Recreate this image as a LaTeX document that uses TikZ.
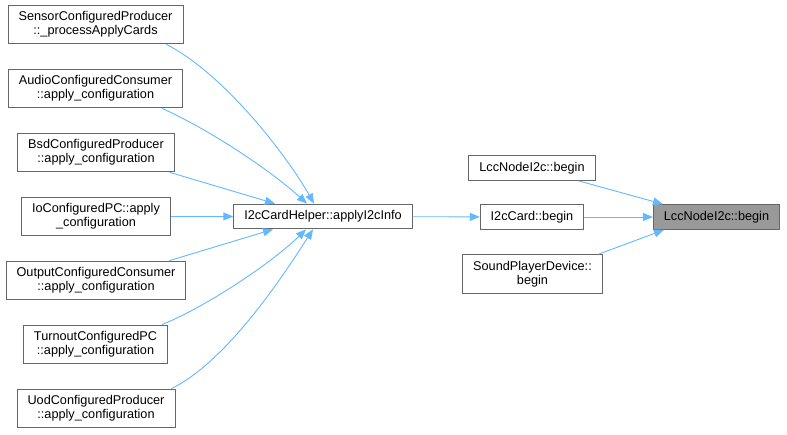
\documentclass[tikz,border=0pt]{standalone}
\usepackage{fontspec}
\setmainfont{Liberation Sans}
\usepackage{tikz}
\usetikzlibrary{arrows.meta}

\begin{document}
\begin{tikzpicture}[x=1pt,y=-1pt,
  fn/.style={draw=black!60,fill=white,line width=0.9pt,align=center,
    inner xsep=10.5pt,inner ysep=6.5pt,font=\fontsize{12.7}{14}\selectfont},
  cur/.style={fn,fill=black!40},
  edge/.style={draw={rgb,255:red,99;green,184;blue,255},line width=0.9pt,
    -{Triangle[length=10pt,width=8pt]}}]
  \useasboundingbox (0,0) rectangle (787,435);
  \node[fn] (0) at (95.5,24.5) {SensorConfiguredProducer\\::\_processApplyCards};
  \node[fn] (1) at (95.5,88.5) {AudioConfiguredConsumer\\::apply\_configuration};
  \node[fn] (2) at (96,152.5) {BsdConfiguredProducer\\::apply\_configuration};
  \node[fn] (3) at (96,216.5) {IoConfiguredPC::apply\\\_configuration};
  \node[fn] (4) at (96,280.5) {OutputConfiguredConsumer\\::apply\_configuration};
  \node[fn] (5) at (95.5,344.5) {TurnoutConfiguredPC\\::apply\_configuration};
  \node[fn] (6) at (96,408.5) {UodConfiguredProducer\\::apply\_configuration};
  \node[fn] (7) at (323,216.5) {I2cCardHelper::applyI2cInfo};
  \node[fn] (8) at (532,168) {LccNodeI2c::begin};
  \node[fn] (9) at (532,217) {I2cCard::begin};
  \node[fn] (10) at (532.5,274) {SoundPlayerDevice::\\begin};
  \node[cur] (11) at (716.5,217) {LccNodeI2c::begin};
  \draw[edge] ([xshift=-17pt]0.south east) .. controls (226,75) and (289,159) .. ([xshift=-9pt]7.north);
  \draw[edge] ([xshift=-21pt]1.south east) .. controls (210,130) and (270,170) .. ([xshift=-16pt]7.north);
  \draw[edge] ([xshift=-5pt]2.south east) -- ([xshift=-48pt]7.north);
  \draw[edge] (3) -- (7);
  \draw[edge] ([xshift=-17pt]4.north east) -- ([xshift=-50pt]7.south);
  \draw[edge] ([xshift=-6pt]5.north east) .. controls (210,305) and (275,260) .. ([xshift=-17pt]7.south);
  \draw[edge] ([xshift=-4pt]6.north east) .. controls (230,360) and (290,265) .. ([xshift=-10pt]7.south);
  \draw[edge] (7) -- (9);
  \draw[edge] ([xshift=-17pt]8.south east) -- ([xshift=10pt]11.north west);
  \draw[edge] (9) -- (11);
  \draw[edge] ([xshift=-4pt]10.north east) -- ([xshift=11pt]11.south west);
\end{tikzpicture}
\end{document}
